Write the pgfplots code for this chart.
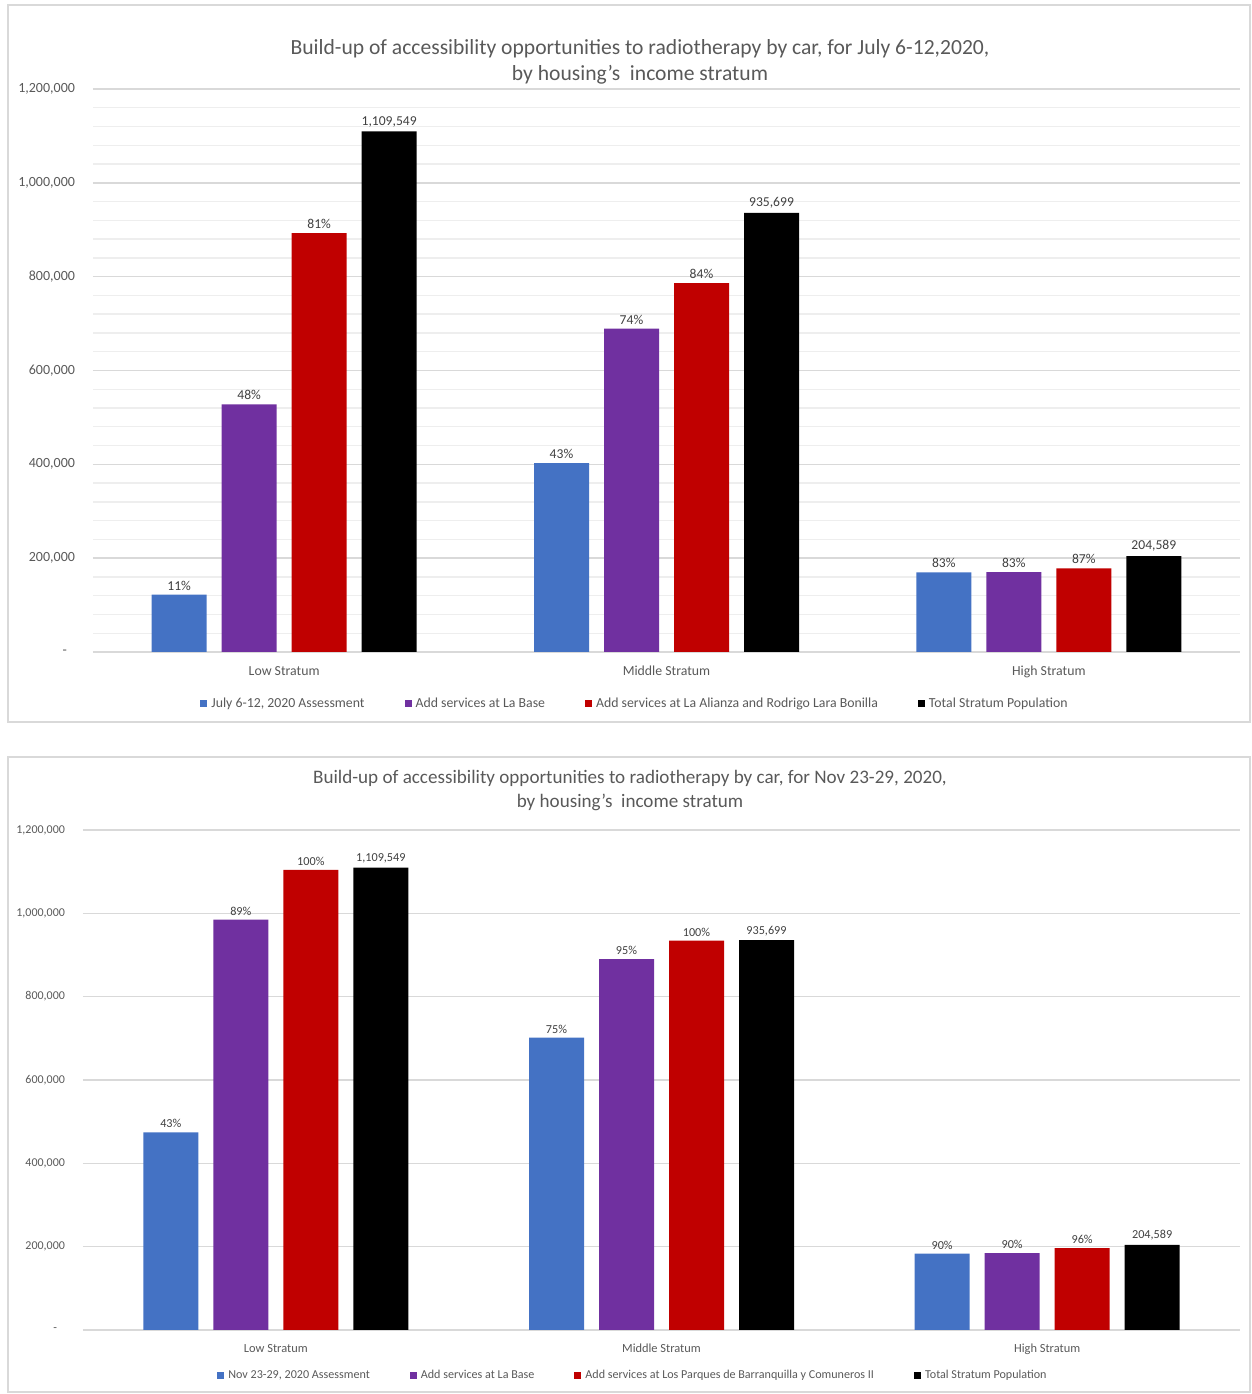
\documentclass[border=0pt]{standalone}
\usepackage{fontspec}
\setmainfont{Carlito}[Ligatures=ResetAll]
\usepackage{pgfplots}
\pgfplotsset{compat=1.18}

\definecolor{cblue}{HTML}{4472C4}
\definecolor{cpurple}{HTML}{7030A0}
\definecolor{cred}{HTML}{C00000}
\definecolor{txt}{HTML}{595959}
\definecolor{lbl}{HTML}{404040}
\definecolor{gridc}{HTML}{D9D9D9}
\definecolor{minorc}{HTML}{EEEEEE}

\pgfplotsset{
 mybars/.style={
  scale only axis, anchor=south west,
  ybar=7.5pt, bar width=27.5pt,
  xmin=-0.5, xmax=2.5, ymin=0, ymax=1200000,
  scaled y ticks=false,
  xtick={0,1,2}, xticklabels={Low Stratum,Middle Stratum,High Stratum},
  ytick={0,200000,400000,600000,800000,1000000,1200000},
  yticklabels={{-\hspace*{4pt}},{200,000},{400,000},{600,000},{800,000},{1,000,000},{1,200,000}},
  ymajorgrids, major grid style={gridc, line width=0.7pt},
  axis line style={draw=none},
  major tick length=0pt, minor tick length=0pt,
  tick label style={text=txt},
  yticklabel style={xshift=-5.5pt},
  xticklabel style={yshift=-3.5pt},
  nodes near coords, point meta=explicit symbolic,
  every node near coord/.append style={text=lbl, inner sep=2pt},
  legend columns=4,
  legend style={draw=none, fill=none, text=txt, anchor=center,
    /tikz/every even column/.append style={column sep=18pt}},
  legend image code/.code={\fill[##1] (0pt,-1.75pt) rectangle (3.5pt,1.75pt);},
  legend cell align=left,
  clip=false,
 }
}

\begin{document}
\begin{tikzpicture}
\path[use as bounding box] (0,0) rectangle (626pt,697pt);
\draw[gridc, line width=0.8pt] (4pt,336pt) rectangle (625pt,694.5pt);
\draw[gridc, line width=0.8pt] (4pt,1pt) rectangle (625pt,318.5pt);

% ---------- top panel ----------
\node[text=txt, font=\fontsize{10.8}{12}\selectfont] at (320pt,672.5pt)
  {Build-up of accessibility opportunities to radiotherapy by car, for July 6-12,2020,};
\node[text=txt, font=\fontsize{10.8}{12}\selectfont] at (320pt,659.5pt)
  {by housing's~ income stratum};

\begin{axis}[mybars, at={(46.5pt,371pt)}, width=573.5pt, height=281.5pt,
  minor y tick num=4, yminorgrids, minor grid style={minorc, line width=0.7pt},
  yticklabel style={font=\fontsize{7}{8}\selectfont},
  xticklabel style={font=\fontsize{6.9}{8}\selectfont},
  every node near coord/.append style={font=\fontsize{6.8}{8}\selectfont},
  legend style={at={(0.4734,-0.092)}, font=\fontsize{6.9}{8}\selectfont},
]
\addplot[fill=cblue, draw=none] coordinates {(0,122050) [11\%] (1,402350) [43\%] (2,169809) [83\%]};
\addplot[fill=cpurple, draw=none] coordinates {(0,528000) [48\%] (1,689000) [74\%] (2,170500) [83\%]};
\addplot[fill=cred, draw=none] coordinates {(0,893000) [81\%] (1,785987) [84\%] (2,177992) [87\%]};
\addplot[fill=black, draw=none] coordinates {(0,1109549) [{1,109,549}] (1,935699) [{935,699}] (2,204589) [{204,589}]};
\legend{{July 6-12, 2020 Assessment}, {Add services at La Base}, {Add services at La Alianza and Rodrigo Lara Bonilla}, {Total Stratum Population}}
\end{axis}

% ---------- bottom panel ----------
\node[text=txt, font=\fontsize{9.55}{11}\selectfont] at (315pt,308pt)
  {Build-up of accessibility opportunities to radiotherapy by car, for Nov 23-29, 2020,};
\node[text=txt, font=\fontsize{9.55}{11}\selectfont] at (315pt,296pt)
  {by housing's~ income stratum};

\begin{axis}[mybars, at={(41.5pt,32pt)}, width=578.5pt, height=250pt,
  yticklabel style={font=\fontsize{6}{7}\selectfont},
  xticklabel style={font=\fontsize{6.2}{7}\selectfont},
  every node near coord/.append style={font=\fontsize{6.1}{7}\selectfont},
  legend style={at={(0.4762,-0.092)}, font=\fontsize{6.05}{7}\selectfont},
]
\addplot[fill=cblue, draw=none] coordinates {(0,474000) [43\%] (1,701774) [75\%] (2,183000) [90\%]};
\addplot[fill=cpurple, draw=none] coordinates {(0,985000) [89\%] (1,890000) [95\%] (2,184500) [90\%]};
\addplot[fill=cred, draw=none] coordinates {(0,1104500) [100\%] (1,934500) [100\%] (2,196405) [96\%]};
\addplot[fill=black, draw=none] coordinates {(0,1109549) [{1,109,549}] (1,935699) [{935,699}] (2,204589) [{204,589}]};
\legend{{Nov 23-29, 2020 Assessment}, {Add services at La Base}, {Add services at Los Parques de Barranquilla y Comuneros II}, {Total Stratum Population}}
\end{axis}
\end{tikzpicture}
\end{document}
